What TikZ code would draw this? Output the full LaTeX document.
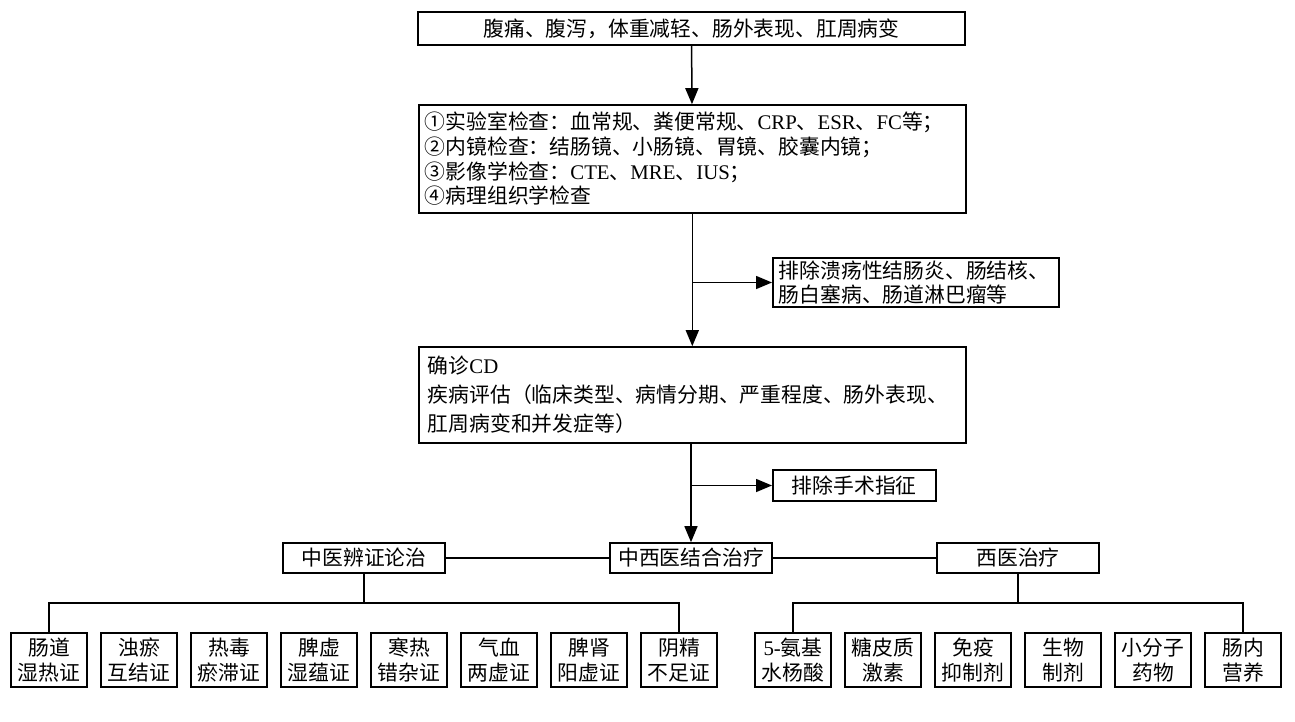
\documentclass[tikz,border=0pt]{standalone}
\usepackage{fontspec}
\setmainfont{Liberation Serif}
\newfontfamily\cjkfont{Noto Sans CJK SC}
\usetikzlibrary{arrows.meta,positioning}
\newcommand{\tnr}[1]{{\rmfamily #1}}

\begin{document}
\begin{tikzpicture}[
  x=1pt, y=-1pt,
  font=\cjkfont\fontsize{20.8}{24.7}\selectfont,
  box/.style={draw, line width=1.6pt, inner sep=0pt, align=center},
  panel/.style={draw, line width=1.6pt, inner xsep=6pt, inner ysep=0pt,
                align=left, anchor=west},
  mid/.style={box, minimum width=162pt, minimum height=30pt},
  leaf/.style={box, minimum width=76pt, minimum height=54pt,
               font=\cjkfont\fontsize{20.8}{25}\selectfont},
  arr/.style={-{Triangle[length=16pt, width=13pt]}, line width=1.5pt},
  link/.style={line width=1.5pt},
]
\useasboundingbox (0,0) rectangle (1295,722);

%% main column
\node[box, minimum width=547pt, minimum height=33pt] (sym) at (691.5,28.5)
  {腹痛、腹泻，体重减轻、肠外表现、肛周病变};
\node[panel, text width=535pt, minimum height=108pt] (exam) at (418,159)
  {①实验室检查：血常规、粪便常规、\tnr{CRP}、\tnr{ESR}、\tnr{FC}等；\\
   ②内镜检查：结肠镜、小肠镜、胃镜、胶囊内镜；\\
   ③影像学检查：\tnr{CTE}、\tnr{MRE}、\tnr{IUS}；\\
   ④病理组织学检查};
\node[panel, text width=274pt, minimum height=49pt] (excl1) at (772,282.5)
  {排除溃疡性结肠炎、肠结核、\\肠白塞病、肠道淋巴瘤等};
\node[panel, inner xsep=9pt, text width=529pt, minimum height=96pt,
      font=\cjkfont\fontsize{20.8}{29}\selectfont] (diag) at (418,395)
  {确诊\tnr{CD}\\
   疾病评估（临床类型、病情分期、严重程度、肠外表现、\\
   肛周病变和并发症等）};
\node[box, minimum width=163pt, minimum height=31pt, anchor=west] (excl2) at (772,485.5)
  {排除手术指征};

%% treatment row
\node[mid] (tcm)   at (364,558)  {中医辨证论治};
\node[mid] (integ) at (691,558)  {中西医结合治疗};
\node[mid] (wm)    at (1018,558) {西医治疗};

%% TCM syndromes
\node[leaf] (t1) at (49,660)  {肠道\\湿热证};
\node[leaf] (t2) at (139,660) {浊瘀\\互结证};
\node[leaf] (t3) at (229,660) {热毒\\瘀滞证};
\node[leaf] (t4) at (319,660) {脾虚\\湿蕴证};
\node[leaf] (t5) at (409,660) {寒热\\错杂证};
\node[leaf] (t6) at (499,660) {气血\\两虚证};
\node[leaf] (t7) at (589,660) {脾肾\\阳虚证};
\node[leaf] (t8) at (679,660) {阴精\\不足证};

%% western drugs
\node[leaf] (w1) at (793,660)  {\tnr{5-}氨基\\水杨酸};
\node[leaf] (w2) at (883,660)  {糖皮质\\激素};
\node[leaf] (w3) at (973,660)  {免疫\\抑制剂};
\node[leaf] (w4) at (1063,660) {生物\\制剂};
\node[leaf] (w5) at (1153,660) {小分子\\药物};
\node[leaf] (w6) at (1243,660) {肠内\\营养};

%% connectors
\draw[arr] (sym) -- (exam);
\draw[arr] (exam) -- (exam.south |- diag.north);
\coordinate (br1) at (exam.south |- excl1.west);
\draw[arr] (br1) -- (excl1.west);
\draw[arr] (diag.south -| integ) -- (integ);
\coordinate (br2) at (integ |- excl2.west);
\draw[arr] (br2) -- (excl2.west);

\draw[link] (tcm) -- (integ);
\draw[link] (integ) -- (wm);

\coordinate (tbus) at (364,603);
\coordinate (wbus) at (1018,603);
\draw[link] (tcm) -- (tbus);
\draw[link] (t1) |- (tbus) -| (t8);
\draw[link] (wm) -- (wbus);
\draw[link] (w1) |- (wbus) -| (w6);
\end{tikzpicture}
\end{document}
